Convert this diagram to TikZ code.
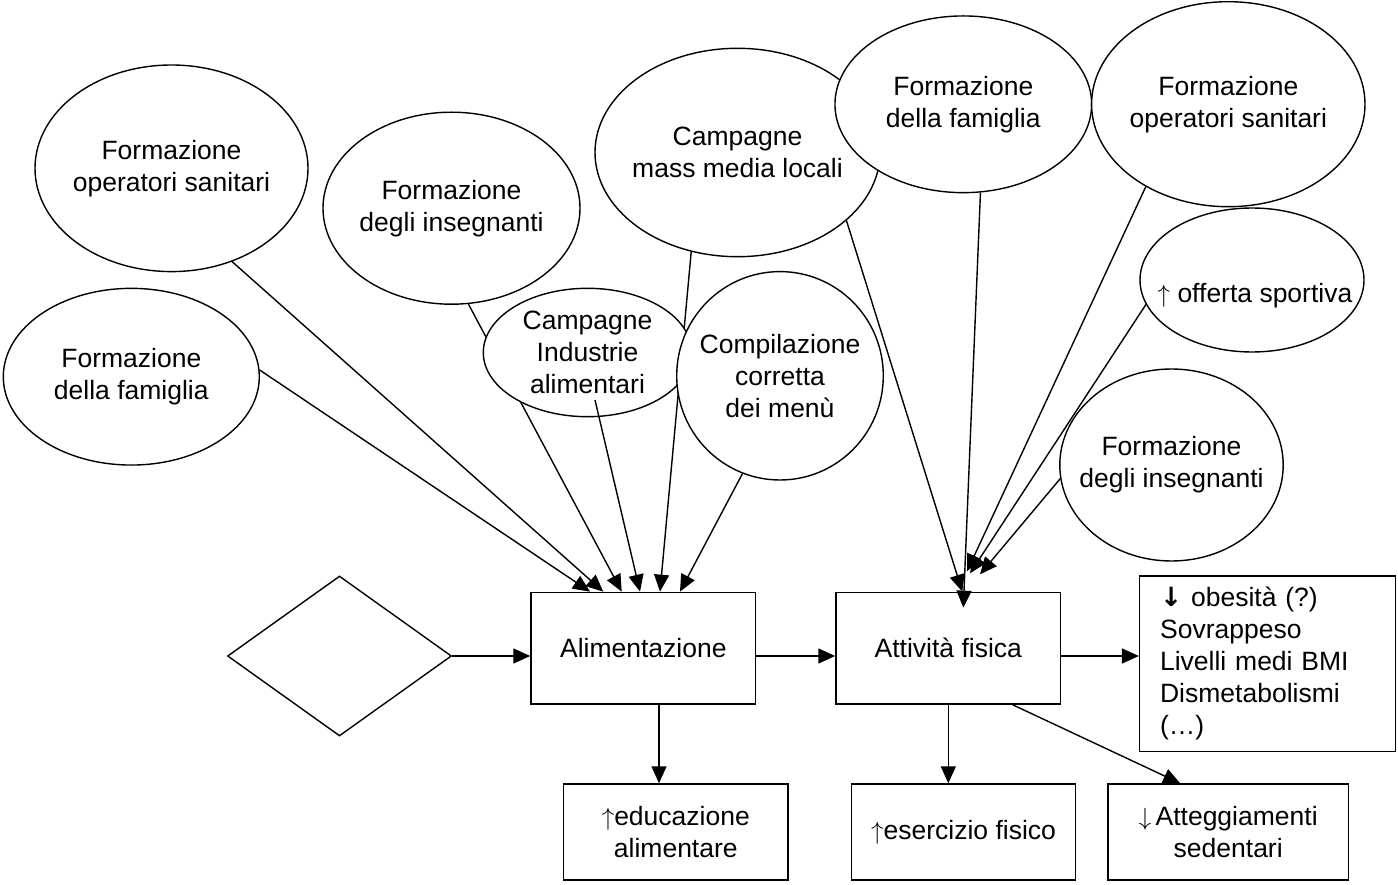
\documentclass[tikz,border=0pt]{standalone}
\usepackage{fontspec}
\setmainfont{Liberation Sans}
\newfontfamily\symfont{DejaVu Sans}
\usetikzlibrary{arrows.meta,shapes.geometric}
\pgfdeclarelayer{background}
\pgfsetlayers{background,main}
\newcommand{\diagfont}{\fontsize{26.5}{32}\selectfont}

\begin{document}
\begin{tikzpicture}[x=1pt,y=-1pt,>={Triangle[length=17pt,width=15pt]},
  every node/.style={font=\diagfont},
  every label/.style={align=center},
  bubble/.style={ellipse,draw,fill=white,line width=1.4pt,inner sep=0pt},
  boxnode/.style={rectangle,draw,fill=white,line width=1.4pt,inner sep=0pt,align=center},
  link/.style={->,line width=1.4pt}]
  \useasboundingbox (0,0) rectangle (1398,885);

  \node[bubble,minimum width=273pt,minimum height=206.6pt,label={center:Formazione\\operatori sanitari}] (eopL) at (171.5,168.3) {};
  \node[bubble,minimum width=257pt,minimum height=192pt,label={center:Formazione\\degli insegnanti}] (einsL) at (451.5,208.2) {};
  \node[bubble,minimum width=256pt,minimum height=176.7pt,label={center:Formazione\\della famiglia}] (efamL) at (131.3,376.7) {};
  \node[bubble,minimum width=285pt,minimum height=208.4pt,label={center:Campagne\\mass media locali}] (emedia) at (737.5,152.5) {};
  \node[bubble,minimum width=256.7pt,minimum height=176.7pt,label={center:Formazione\\della famiglia}] (efamR) at (963.3,104.3) {};
  \node[bubble,minimum width=273.4pt,minimum height=205pt,label={center:Formazione\\operatori sanitari}] (eopR) at (1228.3,104.2) {};
  \node[bubble,minimum width=208.4pt,minimum height=128.4pt,label={center:Campagne\\Industrie\\alimentari}] (eind) at (587.5,352.5) {};
  \node[bubble,minimum width=206.6pt,minimum height=208.4pt,label={center:Compilazione\\corretta\\dei menù}] (emenu) at (780,375.8) {};
  \node[bubble,minimum width=224pt,minimum height=144pt,label={[yshift=-16pt,xshift=3pt]center:$\uparrow$ offerta sportiva}] (esport) at (1252,280) {};
  \node[bubble,minimum width=223.4pt,minimum height=192pt,label={center:Formazione\\degli insegnanti}] (einsR) at (1171.5,465) {};

  \node[diamond,draw,line width=1.4pt,minimum width=224pt,minimum height=160pt,inner sep=0pt] (dia) at (339.5,656) {};
  \node[boxnode,minimum width=224.7pt,minimum height=111.7pt] (alim) at (643.3,648.2) {Alimentazione};
  \node[boxnode,minimum width=224.6pt,minimum height=111.7pt] (act) at (948.3,648.2) {Attività fisica};
  \node[boxnode,text width=215pt,inner xsep=20.5pt,minimum height=175.7pt,align=left] (obes) at (1267.6,663.8)
    {{\symfont\bfseries ↓} obesità (?)\\Sovrappeso\\Livelli medi BMI\\Dismetabolismi\\(…)};
  \node[boxnode,minimum width=224.4pt,minimum height=96pt] (edu) at (675.8,832) {$\uparrow$educazione\\alimentare};
  \node[boxnode,minimum width=224pt,minimum height=96pt] (eser) at (963.6,832) {$\uparrow$esercizio fisico};
  \node[boxnode,minimum width=240.4pt,minimum height=96pt] (att) at (1228.2,832) {$\downarrow$\,Atteggiamenti\\sedentari};

  \begin{pgfonlayer}{background}
    \draw[link] (einsL.-80.4) -- ([xshift=-21.6pt]alim.north);
    \draw[link] (emedia.-115.4) -- ([xshift=16.7pt]alim.north);
  \end{pgfonlayer}
  \draw[link] (efamL.3.8) -- ([xshift=-53.3pt]alim.north);
  \draw[link] (eopL.-57.3) -- ([xshift=-40pt]alim.north);
  \draw[link] ([xshift=7.5pt,yshift=-47.5pt]eind.center) -- ([xshift=-3.3pt]alim.north);
  \draw[link] (emenu.-111) -- ([xshift=36.7pt]alim.north);
  \draw[link] (emedia.-32.4) -- ([xshift=14pt]act.north);
  \draw[link] (efamR.-79.3) -- ([xshift=15pt,yshift=-16pt]act.north);
  \draw[link] (eopR.-135.3) -- ([xshift=18.7pt,yshift=20.3pt]act.north);
  \draw[link] (esport.-167.9) -- ([xshift=21.7pt,yshift=18.3pt]act.north);
  \draw[link] (einsR.-173.4) -- ([xshift=31.7pt,yshift=17.3pt]act.north);

  \draw[link] (dia.east) -- (dia.east -| alim.west);
  \draw[link] (alim.east |- dia.east) -- (act.west |- dia.east);
  \draw[link] (act.east |- dia.east) -- (obes.west |- dia.east);
  \draw[link] ([xshift=15.7pt]alim.south) -- ([xshift=15.7pt]alim.south |- edu.north);
  \draw[link] (act.south) -- (act.south |- eser.north);
  \draw[link] ([xshift=64.3pt]act.south) -- ([xshift=-48pt]att.north);
\end{tikzpicture}
\end{document}
